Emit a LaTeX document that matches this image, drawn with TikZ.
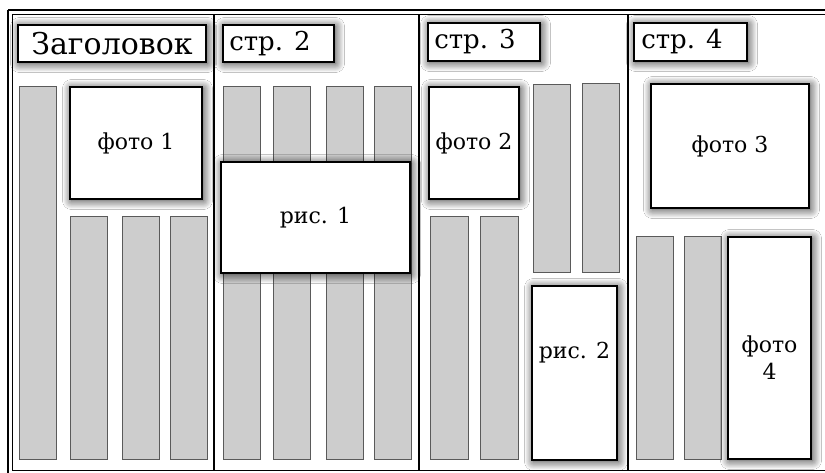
\documentclass[tikz,border=0pt]{standalone}
\usepackage{fontspec}
\setmainfont{DejaVu Serif}
\usepackage{tikz}
\usetikzlibrary{positioning,shadows.blur}

\begin{document}
\begin{tikzpicture}[x=1pt,y=-1pt,
    column/.style={fill=colGray, draw=colEdge, line width=0.9pt},
    photo/.style={draw=black, line width=2.2pt, fill=white, inner sep=0pt, align=center,
        font=\fontsize{22}{27}\selectfont,
        blur shadow={shadow xshift=1.5pt, shadow yshift=-1.5pt, shadow blur radius=9pt, shadow blur steps=12, shadow opacity=85}},
    tag/.style={photo, line width=1.8pt},
    tagtext/.style={inner sep=0pt, font=\fontsize{26}{30}\selectfont},
    phototext/.style={inner sep=0pt, align=center, font=\fontsize{22}{27}\selectfont}]
    \definecolor{colGray}{HTML}{CDCDCD}
    \definecolor{colEdge}{HTML}{5A5A5A}

    \useasboundingbox (0,0) rectangle (825,472);
    \fill[white] (0,0) rectangle (825,472);

    \draw[line width=2pt] (8,10) -- (840,10);
    \draw[line width=2pt] (8,10) -- (8,480);
    \draw[line width=0.8pt] (12,14) rectangle (840,470);
    \foreach \xp in {214,419,628}
        \draw[line width=1.3pt] (\xp,14) -- (\xp,470);

    \foreach \xa/\ya/\xb/\yb in {19/86/56/459, 70/216/107/459, 122/216/159/459, 170/216/207/459,
            223/86/260/459, 273/86/310/459, 326/86/363/459, 374/86/411/459,
            430/216/468/459, 480/216/518/459, 533/84/570/272, 582/83/619/272,
            636/236/673/459, 684/236/721/459}
        \draw[column] (\xa,\ya) rectangle (\xb,\yb);

    \node[tag, minimum width=188, minimum height=37] (title) at (112,43.5) {};
    \node[tagtext, font=\fontsize{30}{34}\selectfont] (titletxt) at (title) {Заголовок};
    \node[tag, minimum width=111, minimum height=37] (page2) at (278.5,43.5) {};
    \node[tagtext, right=7pt of page2.west] (page2txt) {стр. 2};
    \node[tag, minimum width=112, minimum height=38] (page3) at (484,42) {};
    \node[tagtext, right=7pt of page3.west] (page3txt) {стр. 3};
    \node[tag, minimum width=113, minimum height=38] (page4) at (690.5,42) {};
    \node[tagtext, right=8pt of page4.west] (page4txt) {стр. 4};

    \node[photo, minimum width=132, minimum height=112] (foto1) at (136,143) {фото 1};
    \node[photo, minimum width=189, minimum height=111] (ris1) at (315.5,217.5) {рис. 1};
    \node[photo, minimum width=90, minimum height=112] (foto2) at (474,143) {фото 2};
    \node[photo, minimum width=85, minimum height=174] (ris2) at (574.5,373) {};
    \node[phototext] (ris2txt) at (574.5,353) {рис. 2};
    \node[photo, minimum width=158, minimum height=124] (foto3) at (730,146) {фото 3};
    \node[photo, minimum width=83, minimum height=222] (foto4) at (769.5,348) {};
    \node[phototext] (foto4txt) at (769.5,358) {фото\\4};
\end{tikzpicture}
\end{document}
